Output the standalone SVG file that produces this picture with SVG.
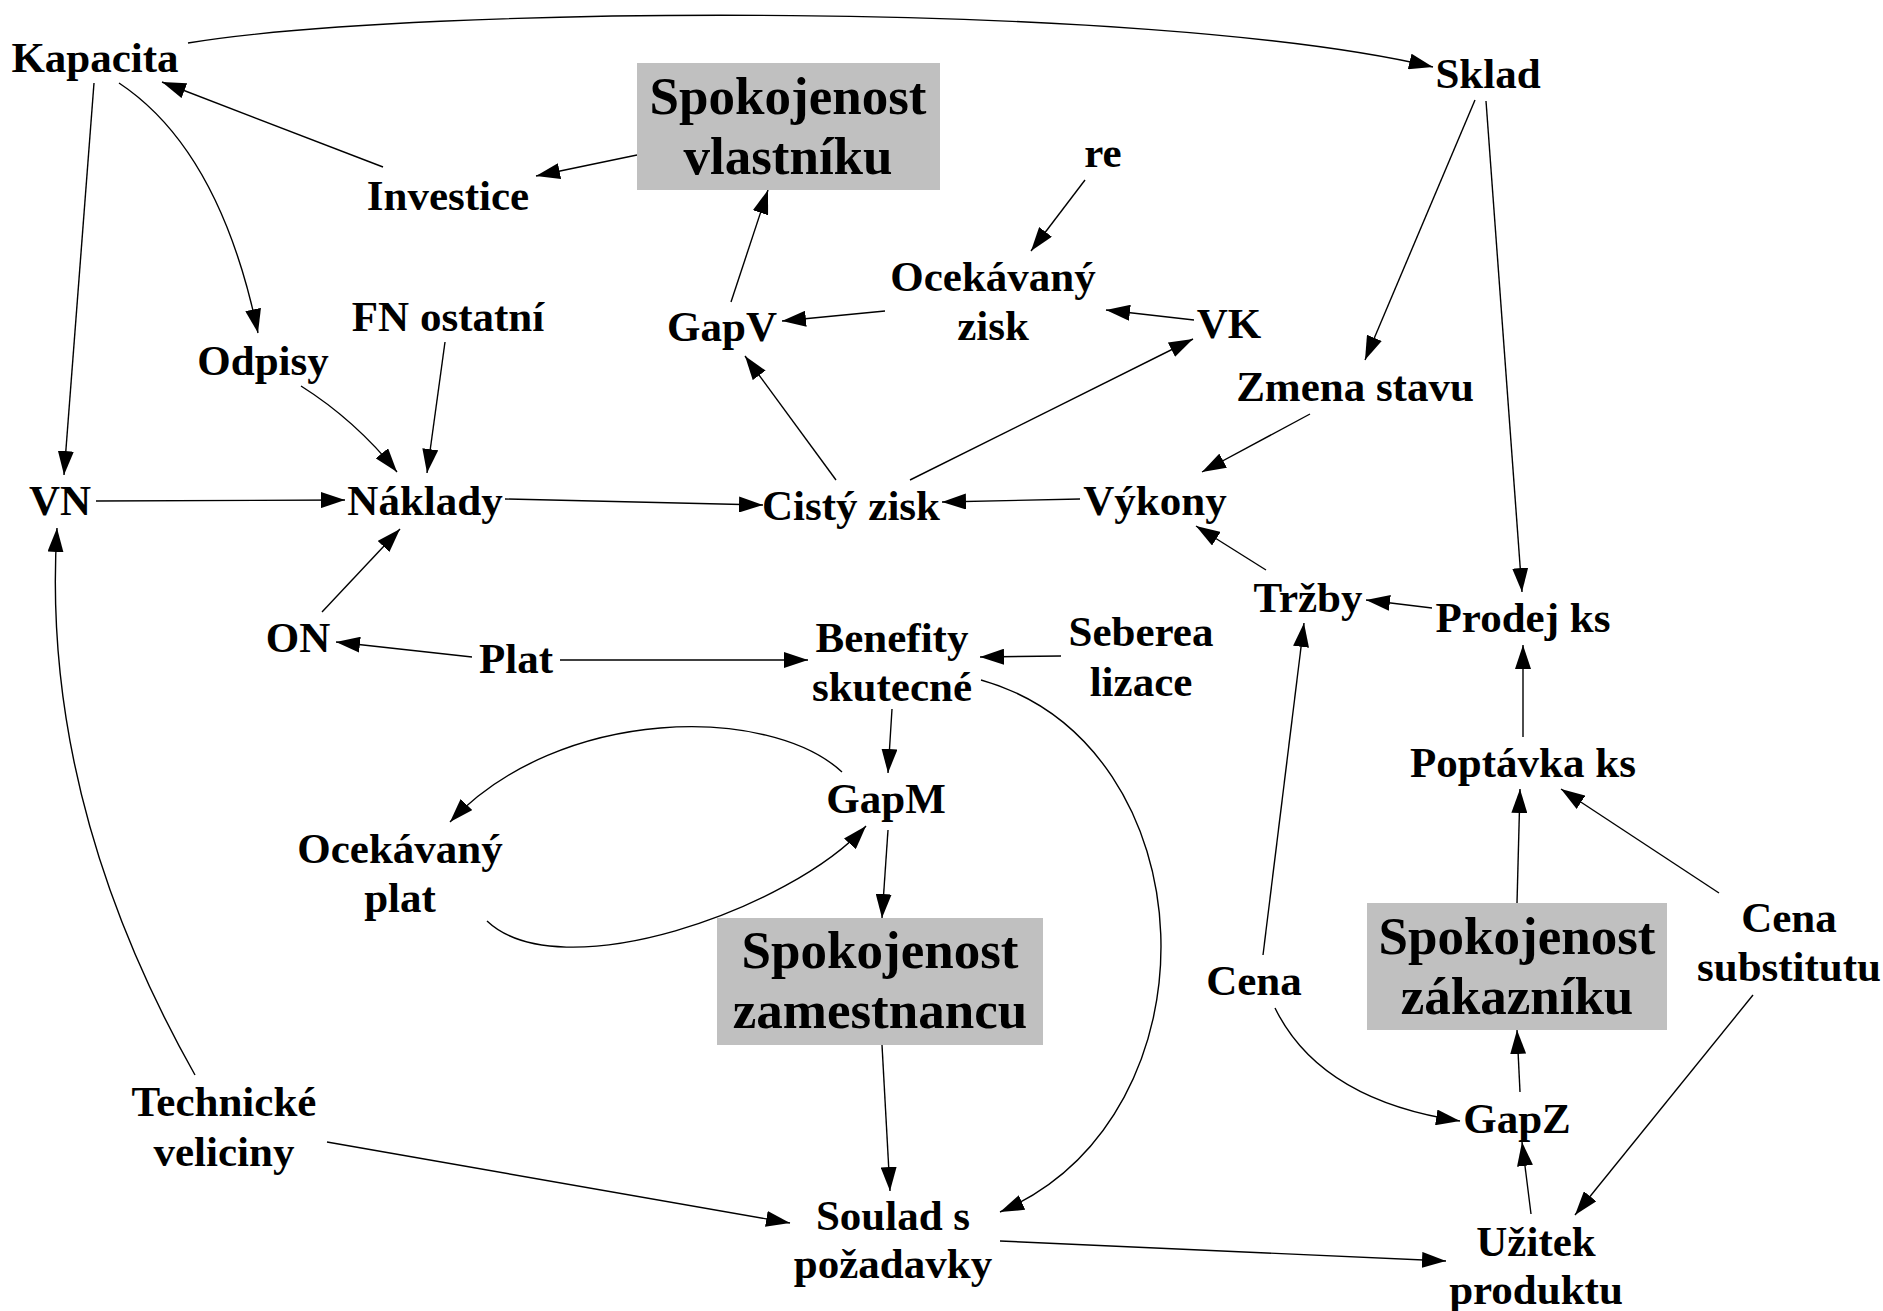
<svg xmlns="http://www.w3.org/2000/svg" width="1883" height="1311" viewBox="0 0 1883 1311">
<style>
text{font-family:"Liberation Serif","Times New Roman",serif;font-weight:bold;font-size:43px;fill:#000;text-anchor:middle}
text.big{font-size:53px}
rect.hl{fill:#c0c0c0;stroke:none}
#edges path{fill:none;stroke:#000;stroke-width:1.4;marker-end:url(#arr)}
</style>
<defs>
<marker id="arr" viewBox="0 0 24 16" markerWidth="24" markerHeight="16" refX="24" refY="8" orient="auto" markerUnits="userSpaceOnUse">
<path d="M0,0 L24,8 L0,16 z" fill="#000"/>
</marker>
</defs>
<rect width="1883" height="1311" fill="#fff"/>
<g id="edges">
<path d="M188,43 C420,5 1150,0 1433,67"/>
<path d="M383,167 L162,82"/>
<path d="M637,155 L536,176"/>
<path d="M94,83 L64,475"/>
<path d="M119,83 Q220,150 258,333"/>
<path d="M445,342 L427,473"/>
<path d="M301,386 Q355,420 397,472"/>
<path d="M96,501 L345,500"/>
<path d="M505,499 L763,505"/>
<path d="M1080,499 L942,502"/>
<path d="M322,612 L400,529"/>
<path d="M472,657 L336,642"/>
<path d="M560,660 L808,660"/>
<path d="M1061,656 L980,657"/>
<path d="M892,709 L888,773"/>
<path d="M981,680 C1210,745 1225,1115 1000,1212"/>
<path d="M842,772 C770,705 560,705 450,822"/>
<path d="M487,921 C560,990 790,910 866,826"/>
<path d="M888,830 L882,918"/>
<path d="M882,1045 L890,1191"/>
<path d="M327,1142 L790,1223"/>
<path d="M195,1075 Q40,800 57,528"/>
<path d="M1475,100 L1365,360"/>
<path d="M1486,101 L1522,592"/>
<path d="M1310,414 L1202,472"/>
<path d="M1085,180 L1031,251"/>
<path d="M1194,320 L1106,310"/>
<path d="M885,311 L782,321"/>
<path d="M731,302 L768,190"/>
<path d="M836,480 L745,356"/>
<path d="M910,480 L1193,339"/>
<path d="M1266,570 L1196,526"/>
<path d="M1432,608 L1366,600"/>
<path d="M1523,737 L1523,645"/>
<path d="M1517,903 L1520,789"/>
<path d="M1719,893 L1561,789"/>
<path d="M1263,955 L1304,623"/>
<path d="M1275,1008 Q1320,1100 1460,1121"/>
<path d="M1520,1092 L1517,1030"/>
<path d="M1531,1214 L1522,1142"/>
<path d="M1753,995 L1575,1215"/>
<path d="M1000,1241 L1446,1261"/>
</g>
<g id="n-kapacita"><text x="95" y="72">Kapacita</text></g>
<g id="n-sklad"><text x="1488" y="88">Sklad</text></g>
<g id="n-spokojenost-vlastniku"><rect class="hl" x="637" y="63" width="303" height="127"/><text class="big" x="788" y="114">Spokojenost</text><text class="big" x="788" y="174">vlastníku</text></g>
<g id="n-investice"><text x="448" y="210">Investice</text></g>
<g id="n-re"><text x="1103" y="167">re</text></g>
<g id="n-ocekavany-zisk"><text x="993" y="291">Ocekávaný</text><text x="993" y="340">zisk</text></g>
<g id="n-gapv"><text x="722" y="341">GapV</text></g>
<g id="n-vk"><text x="1229" y="338">VK</text></g>
<g id="n-fn-ostatni"><text x="448" y="331">FN ostatní</text></g>
<g id="n-odpisy"><text x="263" y="375">Odpisy</text></g>
<g id="n-zmena-stavu"><text x="1355" y="401">Zmena stavu</text></g>
<g id="n-vn"><text x="60" y="515">VN</text></g>
<g id="n-naklady"><text x="425" y="515">Náklady</text></g>
<g id="n-cisty-zisk"><text x="851" y="520">Cistý zisk</text></g>
<g id="n-vykony"><text x="1155" y="515">Výkony</text></g>
<g id="n-trzby"><text x="1308" y="612">Tržby</text></g>
<g id="n-prodej-ks"><text x="1523" y="632">Prodej ks</text></g>
<g id="n-on"><text x="298" y="652">ON</text></g>
<g id="n-plat"><text x="516" y="673">Plat</text></g>
<g id="n-benefity"><text x="892" y="652">Benefity</text><text x="892" y="701">skutecné</text></g>
<g id="n-seberealizace"><text x="1141" y="646">Seberea</text><text x="1141" y="696">lizace</text></g>
<g id="n-poptavka-ks"><text x="1523" y="777">Poptávka ks</text></g>
<g id="n-gapm"><text x="886" y="813">GapM</text></g>
<g id="n-ocekavany-plat"><text x="400" y="863">Ocekávaný</text><text x="400" y="912">plat</text></g>
<g id="n-spokojenost-zamestnancu"><rect class="hl" x="717" y="918" width="326" height="127"/><text class="big" x="880" y="968">Spokojenost</text><text class="big" x="880" y="1028">zamestnancu</text></g>
<g id="n-cena"><text x="1254" y="995">Cena</text></g>
<g id="n-spokojenost-zakazniku"><rect class="hl" x="1367" y="903" width="300" height="127"/><text class="big" x="1517" y="954">Spokojenost</text><text class="big" x="1517" y="1014">zákazníku</text></g>
<g id="n-cena-substitutu"><text x="1789" y="932">Cena</text><text x="1789" y="981">substitutu</text></g>
<g id="n-technicke-veliciny"><text x="224" y="1116">Technické</text><text x="224" y="1166">veliciny</text></g>
<g id="n-gapz"><text x="1517" y="1133">GapZ</text></g>
<g id="n-soulad"><text x="893" y="1230">Soulad s</text><text x="893" y="1278">požadavky</text></g>
<g id="n-uzitek"><text x="1536" y="1256">Užitek</text><text x="1536" y="1304">produktu</text></g>
</svg>
